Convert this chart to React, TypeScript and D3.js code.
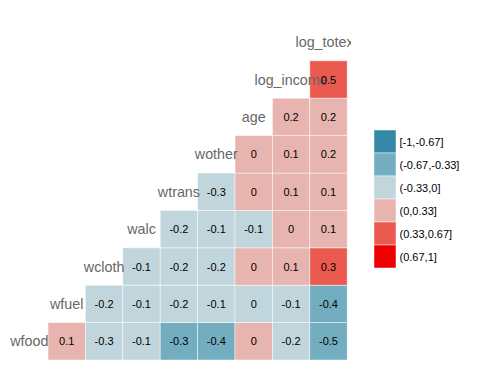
import React from 'react';
import * as d3 from 'd3';

const variables = ['wfood', 'wfuel', 'wcloth', 'walc', 'wtrans', 'wother', 'age', 'log_income', 'log_totexp'];

// lower-triangle correlations: row i holds cor(variables[i], variables[j]) for j > i
const corrRows: number[][] = [
  [0.1, -0.3, -0.1, -0.34, -0.4, 0.02, -0.2, -0.5],
  [-0.2, -0.1, -0.2, -0.1, -0.02, -0.1, -0.4],
  [-0.1, -0.2, -0.2, 0.02, 0.1, 0.34],
  [-0.2, -0.1, -0.1, 0.02, 0.1],
  [-0.3, 0.02, 0.1, 0.1],
  [0.02, 0.1, 0.2],
  [0.2, 0.2],
  [0.5],
];

const binLabels = ['[-1,-0.67]', '(-0.67,-0.33]', '(-0.33,0]', '(0,0.33]', '(0.33,0.67]', '(0.67,1]'];
const binColors = ['#3488A5', '#72AEC0', '#C0D6DC', '#E8B4B0', '#EB5A4F', '#EE0000'];
const binBreaks = [-0.67, -0.33, 0, 0.33, 0.67];

const W = 480;
const H = 384;

const App = () => {
  const x = d3.scaleBand<string>().domain(variables).range([10.6, 347.2]);
  // band scale with a reversed range: y(v) is the top edge of the band
  const y = d3.scaleBand<string>().domain(variables).range([360, 23.4]);
  const color = d3.scaleThreshold<number, string>().domain(binBreaks).range(binColors);
  const legendY = d3.scaleBand<string>().domain(binLabels).range([130, 268]);
  const fmt = (v: number) => String(Math.round(v * 10) / 10 || 0);

  const cells: { r: string; c: string; v: number }[] = [];
  corrRows.forEach((row, i) => {
    row.forEach((v, k) => {
      cells.push({ r: variables[i], c: variables[i + 1 + k], v });
    });
  });

  const font = 'Liberation Sans, Arial, Helvetica, sans-serif';

  return (
    <svg width={W} height={H} style={{ position: 'absolute', left: 0, top: 0 }} fontFamily={font}>
      <defs>
        <clipPath id="panel">
          <rect x={0} y={0} width={351} height={H} />
        </clipPath>
      </defs>
      <rect width={W} height={H} fill="#fff" />
      <g>
        {cells.map((d, i) => (
          <rect
            key={i}
            x={x(d.c)}
            y={y(d.r)}
            width={x.bandwidth()}
            height={y.bandwidth()}
            fill={color(d.v)}
            stroke="#fff"
            strokeOpacity={0.6}
            strokeWidth={0.8}
          />
        ))}
      </g>
      <g clipPath="url(#panel)">
        {variables.map((v) => (
          <text
            key={v}
            x={x(v)! + x.bandwidth() / 2}
            y={y(v)! + y.bandwidth() / 2}
            textAnchor="middle"
            dominantBaseline="central"
            fontSize={14.3}
            fill="#676767"
          >
            {v}
          </text>
        ))}
      </g>
      <g>
        {cells.map((d, i) => (
          <text
            key={i}
            x={x(d.c)! + x.bandwidth() / 2}
            y={y(d.r)! + y.bandwidth() / 2}
            textAnchor="middle"
            dominantBaseline="central"
            fontSize={11}
            fill="#000"
          >
            {fmt(d.v)}
          </text>
        ))}
      </g>
      <g>
        {binLabels.map((b, i) => (
          <g key={b}>
            <rect
              x={374}
              y={legendY(b)}
              width={22}
              height={legendY.bandwidth()}
              fill={binColors[i]}
              stroke="#fff"
              strokeOpacity={0.6}
              strokeWidth={0.8}
            />
            <text
              x={399.5}
              y={legendY(b)! + legendY.bandwidth() / 2}
              dominantBaseline="central"
              fontSize={11}
              fill="#000"
            >
              {b}
            </text>
          </g>
        ))}
      </g>
    </svg>
  );
};

export default App;
